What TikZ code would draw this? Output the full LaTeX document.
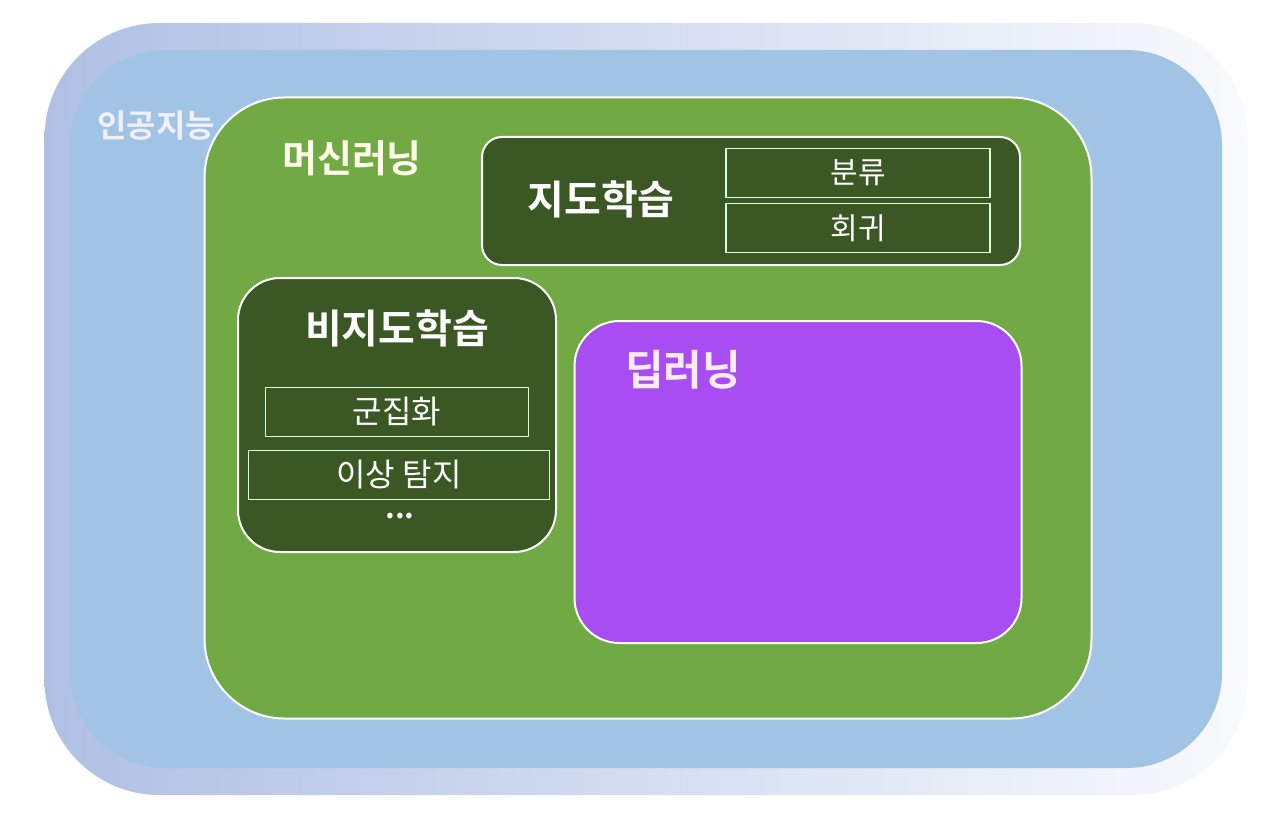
\documentclass[tikz,border=0pt]{standalone}
\usepackage{fontspec}
\newfontfamily\kr{Noto Sans CJK KR}
\newfontfamily\krb{Noto Sans CJK KR Bold}
\definecolor{aiedge}{RGB}{176,192,228}
\definecolor{aiblue}{RGB}{161,196,228}
\definecolor{mlgreen}{RGB}{113,170,69}
\definecolor{slgreen}{RGB}{58,87,36}
\definecolor{dlpurple}{RGB}{167,77,242}
\tikzset{
  area/.style={rectangle,draw=white,line width=2pt},
  itembox/.style={rectangle,draw=white!85!green,line width=1.2pt,inner sep=0pt,
    text=white,font=\kr\fontsize{30}{30}\selectfont},
  title/.style={text=white,inner sep=0pt,font=\krb\fontsize{40}{40}\selectfont}
}
\begin{document}
\begin{tikzpicture}[x=1pt,y=-1pt]
  \useasboundingbox[fill=white] (0,0) rectangle (1263,832);
  % outer frame
  \node[rectangle,rounded corners=115pt,left color=aiedge,right color=aiedge!8,
    minimum width=1203pt,minimum height=772pt] (aiframe) at (646,409) {};
  \node[rectangle,rounded corners=95pt,fill=aiblue,
    minimum width=1152pt,minimum height=718pt] (ai) at (646,409) {};
  \node[title,text=white!94!blue,font=\krb\fontsize{32}{32}\selectfont] (ailbl) at (156,126) {인공지능};

  % machine learning
  \node[area,fill=mlgreen,rounded corners=80pt,
    minimum width=887pt,minimum height=621pt] (ml) at (648,408) {};
  \node[title,text=white!92!yellow,font=\krb\fontsize{38}{38}\selectfont] (mllbl) at (352,158) {머신러닝};

  % supervised
  \node[area,fill=slgreen,rounded corners=20pt,
    minimum width=538pt,minimum height=128pt] (sl) at (751,201) {};
  \node[title] (sllbl) at (601,199) {지도학습};
  \node[itembox,minimum width=264pt,minimum height=49pt] (cls) at (858,173) {분류};
  \node[itembox,minimum width=264pt,minimum height=49pt] (reg) at (858,228) {회귀};

  % unsupervised
  \node[area,fill=slgreen,rounded corners=42pt,
    minimum width=318pt,minimum height=274pt] (ul) at (397,415) {};
  \node[title] (ullbl) at (397,328) {비지도학습};
  \node[itembox,font=\kr\fontsize{32}{32}\selectfont,
    minimum width=263pt,minimum height=49pt] (clu) at (397,412) {군집화};
  \node[itembox,font=\kr\fontsize{32}{32}\selectfont,
    minimum width=301pt,minimum height=49pt] (ano) at (399,475) {이상 탐지};
  \node[text=white,font=\krb\fontsize{30}{30}\selectfont] (more) at (400,516) {...};

  % deep learning
  \node[area,fill=dlpurple,rounded corners=45pt,
    minimum width=447pt,minimum height=322pt] (dl) at (798,482) {};
  \node[title,text=white!92!magenta,font=\krb\fontsize{42}{42}\selectfont] (dllbl) at (683,370) {딥러닝};
\end{tikzpicture}
\end{document}
